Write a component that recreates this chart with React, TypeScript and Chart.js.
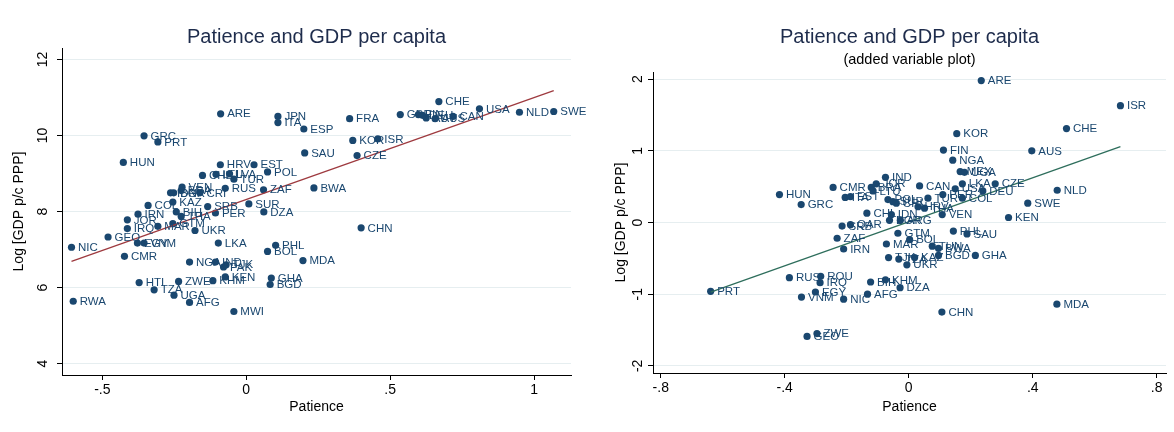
import React, { useEffect, useRef } from "react";
import { Chart, registerables } from "chart.js";

Chart.register(...registerables);

const FONT = '"Liberation Sans", Arial, Helvetica, sans-serif';
const NAVY = "#1a476f";
const TITLE_COLOR = "#1e2c4c";
const GRID = "#e6eef0";

// ---------- Left panel: Patience vs log GDP p/c ----------
const leftCodes = [
  "ARE", "JPN", "ITA", "ESP", "GRC", "PRT", "SAU", "HUN", "HRV", "EST",
  "POL", "CHL", "LTU", "LVA", "TUR", "RUS", "ZAF", "VEN", "BRA", "IDN",
  "BGR", "CRI", "KAZ", "COL", "SRB", "SUR", "DZA", "PER", "IRN", "BIH",
  "THA", "JOR", "IRQ", "MAR", "GTM", "UKR", "GEO", "NIC", "EGY", "VNM",
  "LKA", "PHL", "BOL", "CMR", "NGA", "IND", "PAK", "TJK", "MDA", "HTI",
  "ZWE", "KHM", "KEN", "GHA", "BGD", "TZA", "UGA", "AFG", "RWA", "MWI",
  "CHN", "FRA", "CHE", "GBR", "FIN", "DEU", "AUT", "AUS", "CAN", "USA",
  "NLD", "SWE", "KOR", "ISR", "CZE", "BWA",
];
const leftPatience = [
  -0.089, 0.110, 0.110, 0.200, -0.355, -0.307, 0.203, -0.427, -0.090, 0.027,
  0.074, -0.152, -0.105, -0.058, -0.043, -0.073, 0.060, -0.223, -0.226, -0.263,
  -0.252, -0.161, -0.255, -0.341, -0.134, 0.009, 0.061, -0.107, -0.376, -0.243,
  -0.226, -0.413, -0.413, -0.307, -0.255, -0.178, -0.480, -0.607, -0.378, -0.355,
  -0.097, 0.102, 0.074, -0.423, -0.197, -0.107, -0.079, -0.070, 0.197, -0.372,
  -0.235, -0.116, -0.073, 0.087, 0.083, -0.320, -0.251, -0.197, -0.601, -0.043,
  0.399, 0.359, 0.669, 0.535, 0.598, 0.612, 0.625, 0.656, 0.718, 0.810,
  0.949, 1.068, 0.370, 0.457, 0.385, 0.235,
];
const leftLogGdp = [
  10.57, 10.50, 10.34, 10.17, 9.99, 9.83, 9.54, 9.29, 9.23, 9.23,
  9.04, 8.95, 8.98, 8.99, 8.85, 8.61, 8.57, 8.64, 8.55, 8.49,
  8.49, 8.49, 8.25, 8.16, 8.13, 8.20, 7.99, 7.96, 7.93, 7.99,
  7.87, 7.78, 7.55, 7.61, 7.68, 7.50, 7.33, 7.06, 7.17, 7.17,
  7.17, 7.11, 6.95, 6.82, 6.67, 6.67, 6.54, 6.60, 6.71, 6.13,
  6.16, 6.18, 6.28, 6.25, 6.08, 5.94, 5.80, 5.61, 5.64, 5.37,
  7.57, 10.44, 10.89, 10.55, 10.55, 10.53, 10.46, 10.44, 10.50, 10.70,
  10.61, 10.63, 9.87, 9.91, 9.47, 8.62,
];
const leftFitX = [-0.607, 1.068];
const leftFitY = [6.69, 11.18];
const leftXTicks = [-0.5, 0, 0.5, 1];
const leftYTicks = [4, 6, 8, 10, 12];

// ---------- Right panel: added variable plot ----------
const rightCodes = [
  "ARE", "ISR", "CHE", "KOR", "FIN", "AUS", "NGA", "MEX", "UGA", "IND",
  "HUN", "GRC", "CMR", "ITA", "EST", "JOR", "BRA", "LTU", "CAN", "LKA",
  "CZE", "DEU", "USA", "NLD", "SWE", "KEN", "COL", "PER", "TUR", "HRV",
  "THA", "VEN", "CHL", "IDN", "ARG", "BGR", "SRB", "QAR", "ZAF", "IRN",
  "MAR", "GTM", "PHL", "SAU", "BOL", "TUN", "BWA", "BGD", "GHA", "TJK",
  "TZA", "KAZ", "UKR", "KHM", "BIH", "DZA", "AFG", "NIC", "RUS", "ROU",
  "IRQ", "EGY", "VNM", "PRT", "ZWE", "GEO", "CHN", "MDA", "POL", "SUR",
  "CRI",
];
const rightPatience = [
  0.234, 0.683, 0.509, 0.155, 0.112, 0.397, 0.142, 0.166, 0.180, -0.075,
  -0.417, -0.347, -0.244, -0.205, -0.188, -0.105, -0.121, -0.115, 0.035, 0.173,
  0.279, 0.239, 0.150, 0.479, 0.384, 0.322, 0.173, 0.110, 0.062, 0.030,
  0.051, 0.108, -0.135, -0.056, -0.027, -0.062, -0.215, -0.188, -0.231, -0.210,
  -0.072, -0.035, 0.144, 0.188, 0.003, 0.076, 0.096, 0.096, 0.215, -0.065,
  -0.032, 0.019, -0.006, -0.075, -0.123, -0.028, -0.133, -0.210, -0.385, -0.284,
  -0.286, -0.301, -0.346, -0.639, -0.296, -0.328, 0.107, 0.478, -0.067, -0.051,
  -0.040,
];
const rightLogGdp = [
  1.98, 1.63, 1.31, 1.24, 1.01, 1.00, 0.87, 0.71, 0.70, 0.63,
  0.39, 0.25, 0.49, 0.35, 0.36, 0.54, 0.49, 0.44, 0.51, 0.54,
  0.54, 0.44, 0.47, 0.45, 0.27, 0.07, 0.34, 0.39, 0.34, 0.22,
  0.20, 0.11, 0.13, 0.11, 0.03, 0.03, -0.05, -0.03, -0.22, -0.37,
  -0.30, -0.15, -0.12, -0.16, -0.24, -0.33, -0.36, -0.46, -0.46, -0.49,
  -0.51, -0.49, -0.59, -0.80, -0.83, -0.91, -1.00, -1.07, -0.77, -0.75,
  -0.84, -0.97, -1.04, -0.96, -1.55, -1.59, -1.25, -1.14, 0.32, 0.29,
  0.27,
];
const rightFitX = [-0.639, 0.683];
const rightFitY = [-0.97, 1.06];
const rightXTicks = [-0.8, -0.4, 0, 0.4, 0.8];
const rightYTicks = [-2, -1, 0, 1, 2];

function stataLabel(v: number): string {
  return String(v).replace("0.", ".");
}

type PanelProps = {
  codes: string[];
  xs: number[];
  ys: number[];
  fitX: number[];
  fitY: number[];
  xTicks: number[];
  yTicks: number[];
  xMin: number;
  xMax: number;
  yMin: number;
  yMax: number;
  lineColor: string;
  title: string;
  subtitle?: string;
  padTop: number;
  padRight: number;
  yAxisWidth: number;
  xAxisHeight: number;
  yTitlePad: number;
  yTickPad: number;
  left: number;
};

function Panel(p: PanelProps) {
  const ref = useRef<HTMLCanvasElement | null>(null);

  useEffect(() => {
    if (!ref.current) return;
    const points = p.xs.map((x, i) => ({ x, y: p.ys[i] }));
    const fit = p.fitX.map((x, i) => ({ x, y: p.fitY[i] }));

    const labelPlugin = {
      id: "pointLabels",
      afterDatasetsDraw(chart: any) {
        const meta = chart.getDatasetMeta(0);
        const ctx = chart.ctx;
        ctx.save();
        ctx.font = `11.5px ${FONT}`;
        ctx.fillStyle = NAVY;
        ctx.textBaseline = "middle";
        ctx.textAlign = "left";
        meta.data.forEach((el: any, i: number) => {
          ctx.fillText(p.codes[i], el.x + 6.5, el.y + 0.5);
        });
        ctx.restore();
      },
    };

    const titlePlugin = {
      id: "panelTitles",
      afterDraw(chart: any) {
        const ctx = chart.ctx;
        const { left, right } = chart.chartArea;
        const cx = (left + right) / 2;
        ctx.save();
        ctx.textAlign = "center";
        ctx.textBaseline = "middle";
        ctx.fillStyle = TITLE_COLOR;
        ctx.font = `20px ${FONT}`;
        ctx.fillText(p.title, cx, 37);
        if (p.subtitle) {
          ctx.fillStyle = "#000";
          ctx.font = `14.5px ${FONT}`;
          ctx.fillText(p.subtitle, cx, 60);
        }
        ctx.restore();
      },
    };

    const chart = new Chart(ref.current, {
      type: "scatter",
      data: {
        datasets: [
          {
            type: "scatter",
            data: points,
            backgroundColor: NAVY,
            borderWidth: 0,
            pointRadius: 3.6,
            pointHoverRadius: 3.6,
            order: 2,
          } as any,
          {
            type: "line",
            data: fit,
            borderColor: p.lineColor,
            borderWidth: 1.3,
            pointRadius: 0,
            fill: false,
            tension: 0,
            order: 1,
          } as any,
        ],
      },
      options: {
        animation: false,
        responsive: false,
        maintainAspectRatio: false,
        events: [],
        layout: { padding: { top: p.padTop, right: p.padRight, bottom: 0, left: 0 } },
        plugins: {
          legend: { display: false },
          tooltip: { enabled: false },
          title: { display: false },
        },
        scales: {
          x: {
            type: "linear",
            min: p.xMin,
            max: p.xMax,
            afterBuildTicks: (s: any) => {
              s.ticks = p.xTicks.map((v) => ({ value: v }));
            },
            afterFit: (s: any) => {
              s.height = p.xAxisHeight;
              s.paddingLeft = 0;
              s.paddingRight = 0;
            },
            grid: {
              drawOnChartArea: false,
              drawTicks: true,
              tickLength: 5,
              tickColor: "#000",
              tickWidth: 1,
            },
            border: { display: true, color: "#000", width: 1 },
            ticks: {
              callback: (v: any) => stataLabel(Number(v)),
              font: { family: FONT, size: 14 },
              color: "#000",
              padding: 2,
              minRotation: 0,
              maxRotation: 0,
              autoSkip: false,
            },
            title: {
              display: true,
              text: "Patience",
              font: { family: FONT, size: 14 },
              color: "#000",
              padding: { top: 0, bottom: 16.6 },
            },
          },
          y: {
            type: "linear",
            min: p.yMin,
            max: p.yMax,
            afterBuildTicks: (s: any) => {
              s.ticks = p.yTicks.map((v) => ({ value: v }));
            },
            afterFit: (s: any) => {
              s.width = p.yAxisWidth;
              s.paddingTop = 0;
              s.paddingBottom = 0;
            },
            grid: {
              color: GRID,
              lineWidth: 1,
              drawTicks: true,
              tickLength: 5,
              tickColor: "#000",
              tickWidth: 1,
            },
            border: { display: true, color: "#000", width: 1 },
            ticks: {
              callback: (v: any) => stataLabel(Number(v)),
              font: { family: FONT, size: 14 },
              color: "#000",
              padding: p.yTickPad,
              minRotation: 90,
              maxRotation: 90,
              crossAlign: "center",
              autoSkip: false,
            },
            title: {
              display: true,
              text: "Log [GDP p/c PPP]",
              font: { family: FONT, size: 14 },
              color: "#000",
              padding: { top: p.yTitlePad, bottom: 0 },
            },
          },
        },
      } as any,
      plugins: [labelPlugin, titlePlugin],
    });

    return () => chart.destroy();
  }, []);

  return (
    <div style={{ position: "absolute", left: p.left, top: 0, width: 587, height: 432 }}>
      <canvas ref={ref} width={587} height={432} style={{ display: "block", width: 587, height: 432 }} />
    </div>
  );
}

export default function App() {
  return (
    <div
      style={{
        position: "absolute",
        left: 0,
        top: 0,
        width: 1174,
        height: 432,
        background: "#fff",
        overflow: "hidden",
      }}
    >
      <Panel
        codes={leftCodes}
        xs={leftPatience}
        ys={leftLogGdp}
        fitX={leftFitX}
        fitY={leftFitY}
        xTicks={leftXTicks}
        yTicks={leftYTicks}
        xMin={-0.64}
        xMax={1.128}
        yMin={3.7}
        yMax={12.3}
        lineColor="#9e3a3f"
        title="Patience and GDP per capita"
        padTop={48}
        padRight={16}
        yAxisWidth={62}
        xAxisHeight={57}
        yTitlePad={10.6}
        yTickPad={6.2}
        left={0}
      />
      <Panel
        codes={rightCodes}
        xs={rightPatience}
        ys={rightLogGdp}
        fitX={rightFitX}
        fitY={rightFitY}
        xTicks={rightXTicks}
        yTicks={rightYTicks}
        xMin={-0.825}
        xMax={0.83}
        yMin={-2.1}
        yMax={2.1}
        lineColor="#2e6e5c"
        title="Patience and GDP per capita"
        subtitle="(added variable plot)"
        padTop={72}
        padRight={8}
        yAxisWidth={66}
        xAxisHeight={59}
        yTitlePad={25.6}
        yTickPad={3.8}
        left={587}
      />
    </div>
  );
}
